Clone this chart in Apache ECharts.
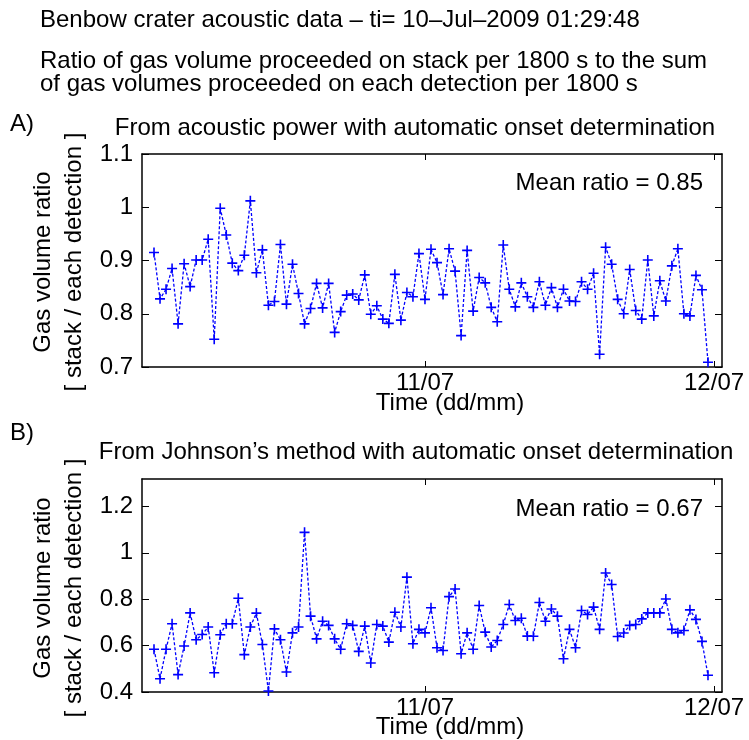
<!DOCTYPE html>
<html>
<head>
<meta charset="UTF-8">
<script src="https://cdn.jsdelivr.net/npm/echarts@6/dist/echarts.min.js"></script>
<style>
  html, body { margin: 0; padding: 0; background: #fff; }
  #chart { width: 749px; height: 740px; }
</style>
</head>
<body>
<div id="chart"></div>
<script type="text/javascript">
// time in hours since 10/07 00:00, one value per 1800 s from ti = 01:29:48
var T_START = 1 + 29 / 60 + 48 / 3600;
var T_STEP = 0.5;

// A) from acoustic power with automatic onset determination
var ratioA = [0.915, 0.828, 0.846, 0.885, 0.781, 0.894, 0.851, 0.901, 0.901, 0.940,
  0.752, 0.998, 0.948, 0.895, 0.881, 0.910, 1.012, 0.877, 0.920, 0.816,
  0.823, 0.930, 0.818, 0.893, 0.838, 0.781, 0.810, 0.857, 0.811, 0.857,
  0.765, 0.804, 0.835, 0.837, 0.826, 0.873, 0.799, 0.815, 0.790, 0.782,
  0.874, 0.788, 0.840, 0.832, 0.913, 0.827, 0.921, 0.896, 0.836, 0.922,
  0.880, 0.759, 0.919, 0.805, 0.868, 0.858, 0.812, 0.785, 0.929, 0.846,
  0.813, 0.858, 0.832, 0.812, 0.860, 0.816, 0.849, 0.812, 0.846, 0.824,
  0.823, 0.860, 0.846, 0.876, 0.724, 0.925, 0.893, 0.827, 0.800, 0.883,
  0.806, 0.790, 0.901, 0.796, 0.862, 0.824, 0.890, 0.922, 0.800, 0.796,
  0.872, 0.845, 0.709];

// B) from Johnson's method with automatic onset determination
var ratioB = [0.584, 0.457, 0.584, 0.694, 0.475, 0.598, 0.741, 0.625, 0.648, 0.680,
  0.483, 0.647, 0.694, 0.694, 0.804, 0.561, 0.680, 0.740, 0.605, 0.404,
  0.672, 0.625, 0.486, 0.655, 0.680, 1.088, 0.727, 0.629, 0.705, 0.687,
  0.629, 0.584, 0.694, 0.687, 0.575, 0.684, 0.525, 0.691, 0.684, 0.615,
  0.744, 0.680, 0.895, 0.608, 0.670, 0.655, 0.763, 0.591, 0.579, 0.811,
  0.844, 0.565, 0.655, 0.584, 0.773, 0.658, 0.594, 0.622, 0.691, 0.777,
  0.708, 0.718, 0.641, 0.640, 0.786, 0.705, 0.758, 0.727, 0.543, 0.670,
  0.591, 0.751, 0.734, 0.766, 0.670, 0.913, 0.863, 0.639, 0.654, 0.687,
  0.691, 0.715, 0.741, 0.741, 0.741, 0.801, 0.670, 0.655, 0.665, 0.754,
  0.713, 0.618, 0.472];

var xTicks = [24, 48];
var xTickLabels = ['11/07', '12/07'];
var yTicksA = [0.7, 0.8, 0.9, 1, 1.1];
var yTicksB = [0.4, 0.6, 0.8, 1, 1.2];
var meanA = '0.85';
var meanB = '0.67';

var FONT = '"Liberation Sans", Arial, Helvetica, sans-serif';
var FS = 24;
var BLUE = '#0000ff';

function pairs(vals) {
  return vals.map(function (v, i) { return [T_START + i * T_STEP, v]; });
}

function xAxis(grid, pos) {
  return {
    type: 'value', gridIndex: grid, position: pos,
    min: 0.5, max: 48.66,
    axisLine: { show: true, onZero: false, lineStyle: { color: '#000', width: 1.5 } },
    axisTick: { show: true, inside: true, length: 6, customValues: xTicks, lineStyle: { color: '#000', width: 1 } },
    axisLabel: {
      show: pos === 'bottom', customValues: xTicks, margin: 4,
      color: '#000', fontFamily: FONT, fontSize: FS,
      formatter: function (v) { return xTickLabels[xTicks.indexOf(v)]; }
    },
    splitLine: { show: false }
  };
}

function yAxis(grid, pos, min, max, ticks) {
  return {
    type: 'value', gridIndex: grid, position: pos,
    min: min, max: max,
    axisLine: { show: true, onZero: false, lineStyle: { color: '#000', width: 1.5 } },
    axisTick: { show: true, inside: true, length: 7, customValues: ticks, lineStyle: { color: '#000', width: 1 } },
    axisLabel: {
      show: pos === 'left', customValues: ticks, margin: 9,
      color: '#000', fontFamily: FONT, fontSize: FS
    },
    splitLine: { show: false }
  };
}

function series(xi, yi, vals) {
  return {
    type: 'line', xAxisIndex: xi, yAxisIndex: yi,
    data: pairs(vals),
    symbol: 'path://M0,5L10,5M5,0L5,10',
    symbolSize: 10,
    showAllSymbol: true,
    itemStyle: { color: 'rgba(0,0,0,0)', borderColor: BLUE, borderWidth: 1.6 },
    lineStyle: { color: BLUE, width: 1.3, type: [3, 2] },
    animation: false
  };
}

function txt(x, y, s, align, rot) {
  return {
    type: 'text', x: x, y: y, rotation: rot || 0,
    style: { text: s, fill: '#000', font: FS + 'px ' + FONT, align: align || 'left', verticalAlign: 'middle' }
  };
}

var chart = echarts.init(document.getElementById('chart'), null, { renderer: 'canvas' });

var option = {
  backgroundColor: '#fff',
  animation: false,
  grid: [
    { left: 142, top: 154, width: 580, height: 213 },
    { left: 142, top: 479, width: 580, height: 213 }
  ],
  xAxis: [xAxis(0, 'bottom'), xAxis(0, 'top'), xAxis(1, 'bottom'), xAxis(1, 'top')],
  yAxis: [
    yAxis(0, 'left', 0.7, 1.1, yTicksA), yAxis(0, 'right', 0.7, 1.1, yTicksA),
    yAxis(1, 'left', 0.4, 1.318, yTicksB), yAxis(1, 'right', 0.4, 1.318, yTicksB)
  ],
  series: [series(0, 0, ratioA), series(2, 2, ratioB)],
  graphic: [
    txt(40, 20, 'Benbow crater acoustic data \u2013 ti= 10\u2013Jul\u20132009 01:29:48'),
    txt(40, 61, 'Ratio of gas volume proceeded on stack per 1800 s to the sum'),
    txt(40, 84, 'of gas volumes proceeded on each detection per 1800 s'),
    txt(10, 124, 'A)'),
    txt(415, 128, 'From acoustic power with automatic onset determination', 'center'),
    txt(703, 183, 'Mean ratio = ' + meanA, 'right'),
    txt(450, 403, 'Time (dd/mm)', 'center'),
    txt(43, 262, 'Gas volume ratio', 'center', Math.PI / 2),
    txt(74, 262, '[ stack / each detection ]', 'center', Math.PI / 2),
    txt(10, 433, 'B)'),
    txt(416, 452, 'From Johnson\u2019s method with automatic onset determination', 'center'),
    txt(703, 509, 'Mean ratio = ' + meanB, 'right'),
    txt(450, 727, 'Time (dd/mm)', 'center'),
    txt(43, 588, 'Gas volume ratio', 'center', Math.PI / 2),
    txt(74, 588, '[ stack / each detection ]', 'center', Math.PI / 2)
  ]
};

chart.setOption(option);
</script>
</body>
</html>
